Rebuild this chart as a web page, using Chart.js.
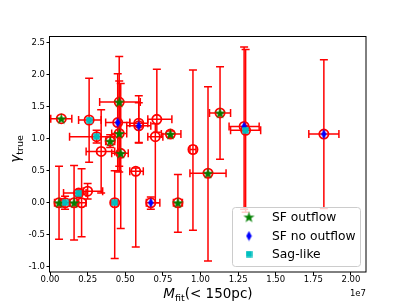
<!DOCTYPE html>
<html>
<head>
<meta charset="utf-8">
<script src="https://cdn.jsdelivr.net/npm/chart.js@4.4.0/dist/chart.umd.min.js"></script>
<style>
html, body { margin: 0; padding: 0; background: #fff; }
#wrap { width: 407px; height: 305px; }
</style>
</head>
<body>
<div id="wrap"><canvas id="chart" width="407" height="305"></canvas></div>
<script>
// x is in units of 1e7 (offset text drawn at bottom right)
const xVals  = [0.075, 0.26, 0.31, 0.40, 0.45, 0.46, 0.46, 0.47, 0.34, 0.59, 0.59, 0.71, 0.70, 0.80, 0.57,
                0.95, 1.05, 1.13, 1.29, 1.30, 1.82, 0.06, 0.10, 0.16, 0.21, 0.19, 0.25, 0.43, 0.67, 0.85];
const yVals  = [1.31, 1.29, 1.03, 0.96, 1.25, 1.57, 1.08, 0.77, 0.80, 1.24, 1.20, 1.30, 1.03, 1.07, 0.49,
                0.83, 0.46, 1.40, 1.19, 1.13, 1.07, 0.00, 0.00, 0.00, 0.00, 0.15, 0.18, 0.00, 0.00, 0.00];
const xErrLo = [0.07, 0.07, 0.18, 0.03, 0.08, 0.13, 0.05, 0.06, 0.10, 0.06, 0.08, 0.06, 0.05, 0.06, 0.04,
                0.02, 0.12, 0.07, 0.10, 0.10, 0.10, 0.03, 0.03, 0.03, 0.03, 0.10, 0.03, 0.02, 0.03, 0.03];
const xErrHi = [0.07, 0.08, 0.12, 0.03, 0.08, 0.14, 0.05, 0.05, 0.09, 0.06, 0.08, 0.10, 0.05, 0.07, 0.05,
                0.02, 0.12, 0.07, 0.10, 0.10, 0.10, 0.03, 0.03, 0.03, 0.03, 0.05, 0.10, 0.02, 0.06, 0.03];
const yErrLo = [0.00, 0.66, 0.10, 0.10, 0.75, 1.00, 0.60, 1.17, 0.65, 0.30, 0.27, 0.20, 1.03, 0.05, 1.18,
                1.26, 1.37, 0.72, 1.29, 1.28, 1.16, 0.57, 0.10, 0.58, 0.53, 0.05, 0.12, 0.87, 0.10, 0.46];
const yErrHi = [0.00, 0.65, 0.10, 0.10, 0.76, 0.71, 0.82, 1.09, 0.65, 0.43, 0.36, 0.78, 0.20, 0.05, 0.05,
                1.24, 1.35, 0.72, 1.24, 1.26, 1.16, 0.57, 0.10, 0.58, 0.53, 0.05, 0.12, 0.50, 0.09, 0.44];
// 'sf' = SF outflow, 'nosf' = SF no outflow, 'sag' = Sag-like, '' = none
const kinds  = ['sf', 'sag', 'sag', 'sf', 'nosf', 'sf', 'sf', 'sf', '', '', 'nosf', '', '', 'sf', '',
                '', 'sf', 'sf', 'nosf', 'sag', 'nosf', 'sf', 'sag', 'sf', '', 'sag', '', 'sag', 'nosf', 'sf'];

const xTicks = [0, 0.25, 0.5, 0.75, 1.0, 1.25, 1.5, 1.75, 2.0];
const yTicks = [-1.0, -0.5, 0.0, 0.5, 1.0, 1.5, 2.0, 2.5];
const legendLabels = ['SF outflow', 'SF no outflow', 'Sag-like'];

const FONT = 'DejaVu Sans';

function markerCanvas(kind) {
    const c = document.createElement('canvas');
    const g = c.getContext('2d');
    if (kind === 'sf') {
        c.width = 13; c.height = 13;
        const R = 5.9, r = R * 0.382;
        g.beginPath();
        for (let i = 0; i < 10; i++) {
            const rad = i % 2 ? r : R;
            const a = -Math.PI / 2 + i * Math.PI / 5;
            const px = 6.5 + rad * Math.cos(a), py = 7 + rad * Math.sin(a);
            if (i === 0) g.moveTo(px, py); else g.lineTo(px, py);
        }
        g.closePath();
        g.fillStyle = '#008000';
        g.fill();
    } else if (kind === 'nosf') {
        c.width = 7; c.height = 11;
        g.beginPath();
        g.moveTo(3.5, 0.6); g.lineTo(6.3, 5.5); g.lineTo(3.5, 10.4); g.lineTo(0.7, 5.5);
        g.closePath();
        g.fillStyle = '#0000ff';
        g.fill();
    } else {
        c.width = 7; c.height = 7;
        g.fillStyle = '#00bfbf';
        g.fillRect(0.3, 0.3, 6.4, 6.4);
    }
    return c;
}
const markers = { sf: markerCanvas('sf'), nosf: markerCanvas('nosf'), sag: markerCanvas('sag') };

function pts(filter) {
    const out = [];
    xVals.forEach((x, i) => {
        if (!filter || kinds[i] === filter) out.push({ x: x, y: yVals[i] });
    });
    return out;
}

const errorBars = {
    id: 'errorBars',
    beforeDatasetsDraw(chart) {
        const ctx = chart.ctx;
        const xs = chart.scales.x, ys = chart.scales.y;
        const cap = 4;
        ctx.save();
        ctx.strokeStyle = '#ff0000';
        ctx.lineWidth = 1.5;
        xVals.forEach((x, i) => {
            const y = yVals[i];
            const px = xs.getPixelForValue(x), py = ys.getPixelForValue(y);
            const x0 = xs.getPixelForValue(x - xErrLo[i]), x1 = xs.getPixelForValue(x + xErrHi[i]);
            const y0 = ys.getPixelForValue(y - yErrLo[i]), y1 = ys.getPixelForValue(y + yErrHi[i]);
            ctx.beginPath();
            ctx.moveTo(x0, py); ctx.lineTo(x1, py);
            ctx.moveTo(x0, py - cap); ctx.lineTo(x0, py + cap);
            ctx.moveTo(x1, py - cap); ctx.lineTo(x1, py + cap);
            if (yErrLo[i] > 0 || yErrHi[i] > 0) {
                ctx.moveTo(px, y0); ctx.lineTo(px, y1);
                ctx.moveTo(px - cap, y0); ctx.lineTo(px + cap, y0);
                ctx.moveTo(px - cap, y1); ctx.lineTo(px + cap, y1);
            }
            ctx.stroke();
        });
        ctx.restore();
    }
};

function drawPieces(ctx, pieces, cx, baseY) {
    let total = 0;
    pieces.forEach(p => { ctx.font = p.font; p.w = ctx.measureText(p.t).width; total += p.w; });
    let x = cx - total / 2;
    ctx.textAlign = 'left';
    ctx.textBaseline = 'alphabetic';
    pieces.forEach(p => {
        ctx.font = p.font;
        ctx.fillText(p.t, x, baseY + (p.dy || 0));
        x += p.w;
    });
}

const decor = {
    id: 'decor',
    afterDraw(chart) {
        const ctx = chart.ctx;
        const a = chart.chartArea;
        ctx.save();
        // spines
        ctx.strokeStyle = '#000';
        ctx.lineWidth = 1;
        ctx.strokeRect(Math.round(a.left) - 0.5, Math.round(a.top) + 0.5,
                       Math.round(a.right - a.left) + 0.5, Math.round(a.bottom - a.top) - 0.5);
        ctx.fillStyle = '#000';
        // x axis title
        drawPieces(ctx, [
            { t: 'M', font: 'italic 13.5px ' + FONT },
            { t: 'fit', font: '9.5px ' + FONT, dy: 2.5 },
            { t: '(< 150pc)', font: '13.5px ' + FONT }
        ], (a.left + a.right) / 2, 298);
        // y axis title
        ctx.save();
        ctx.translate(20, 149);
        ctx.rotate(-Math.PI / 2);
        drawPieces(ctx, [
            { t: 'γ', font: 'italic 13.5px ' + FONT },
            { t: 'true', font: '9.5px ' + FONT, dy: 2.5 }
        ], 0, 0);
        ctx.restore();
        // offset text
        ctx.font = '8.5px ' + FONT;
        ctx.textAlign = 'right';
        ctx.textBaseline = 'alphabetic';
        ctx.fillText('1e7', a.right, 296);
        // legend
        const bx = 232, by = 207, bw = 128, bh = 59;
        ctx.beginPath();
        ctx.roundRect(bx + 0.5, by + 0.5, bw, bh, 3);
        ctx.fillStyle = 'rgba(255,255,255,0.8)';
        ctx.fill();
        ctx.strokeStyle = '#cccccc';
        ctx.stroke();
        const rows = [217, 236, 254];
        const keys = ['sf', 'nosf', 'sag'];
        ctx.font = '12.3px ' + FONT;
        ctx.textAlign = 'left';
        ctx.textBaseline = 'middle';
        ctx.fillStyle = '#000';
        rows.forEach((ry, i) => {
            const m = markers[keys[i]];
            ctx.drawImage(m, 249 - m.width / 2, ry - m.height / 2);
            ctx.fillText(legendLabels[i], 272, ry + 1);
        });
        ctx.restore();
    }
};

const tickFont = { family: FONT, size: 8.5 };
const gridOpts = { drawOnChartArea: false, drawTicks: true, tickLength: 3.5, tickColor: '#000', lineWidth: 1 };

new Chart(document.getElementById('chart').getContext('2d'), {
    type: 'scatter',
    data: {
        datasets: [
            { label: 'all', data: pts(null), order: 4, pointStyle: 'circle', pointRadius: 4.6,
              borderColor: '#ff0000', backgroundColor: 'rgba(0,0,0,0)', borderWidth: 1.8 },
            { label: legendLabels[0], data: pts('sf'), order: 3, pointStyle: markers.sf },
            { label: legendLabels[1], data: pts('nosf'), order: 2, pointStyle: markers.nosf },
            { label: legendLabels[2], data: pts('sag'), order: 1, pointStyle: markers.sag }
        ]
    },
    options: {
        responsive: false,
        animation: false,
        events: [],
        layout: { padding: { left: 0, top: 36, right: 41, bottom: 0 } },
        plugins: { legend: { display: false }, tooltip: { enabled: false } },
        scales: {
            x: {
                type: 'linear', min: 0, max: 2.1,
                afterBuildTicks: s => { s.ticks = xTicks.map(v => ({ value: v })); },
                afterFit: s => { s.height = 33; },
                ticks: { font: tickFont, color: '#000', padding: -1, maxRotation: 0,
                         callback: v => v.toFixed(2) },
                grid: gridOpts,
                border: { display: false }
            },
            y: {
                type: 'linear', min: -1.08, max: 2.60,
                afterBuildTicks: s => { s.ticks = yTicks.map(v => ({ value: v })); },
                afterFit: s => { s.width = 50; },
                ticks: { font: tickFont, color: '#000', padding: 1.5,
                         callback: v => v.toFixed(1) },
                grid: gridOpts,
                border: { display: false }
            }
        }
    },
    plugins: [errorBars, decor]
});
</script>
</body>
</html>
